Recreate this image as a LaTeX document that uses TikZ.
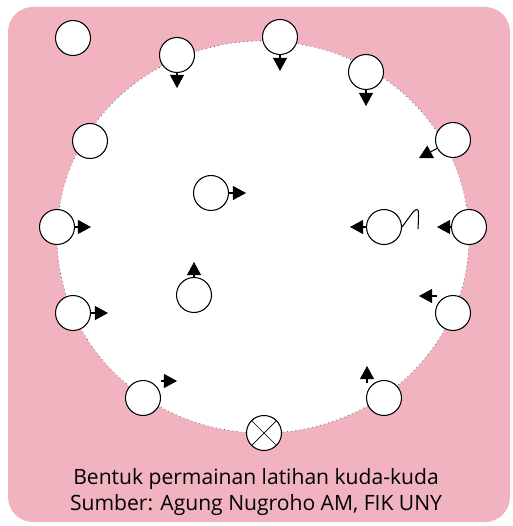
\documentclass[tikz,border=0pt]{standalone}
\usepackage{fontspec}
\setmainfont{Open Sans}
\usetikzlibrary{arrows.meta, positioning}
\definecolor{pinkbg}{RGB}{241,179,192}

\begin{document}
\begin{tikzpicture}[x=0.02cm, y=-0.02cm,
  player/.style={circle, draw, semithick, fill=white, minimum size=0.7cm, inner sep=0pt},
  move/.style={-{Triangle[length=7.5pt,width=8pt]}, semithick}]
  \useasboundingbox (0,0) rectangle (512,526);

  % field
  \fill[pinkbg, rounded corners=0.5cm] (8,7) rectangle (510,522);
  \draw[fill=white, draw=gray!60!black, dotted, thin] (263,237) ellipse [x radius=206, y radius=196];

  % players
  \foreach \name/\x/\y in {p1/73/38, p2/177/55, p3/280/37, p4/366/72, p5/453/140,
      p6/469/227, p7/384/227, p8/90/141, p9/57/227, p10/211/193, p11/194/295,
      p12/73/313, p13/143/398, p14/264/433, p15/384/398, p16/453/313}
    \node[player] (\name) at (\x,\y) {};
  \draw (p14.north west) -- (p14.south east);
  \draw (p14.north east) -- (p14.south west);

  % free ends
  \coordinate (a2) at (177,88);
  \coordinate (a3) at (280,71);
  \coordinate (a4) at (366,106);
  \coordinate (a5) at (419,158);
  \coordinate (a6) at (437,227);
  \coordinate (a7) at (350,227);
  \coordinate (a9) at (91,227);
  \coordinate (a10) at (246,193);
  \coordinate (a11) at (194,262);
  \coordinate (a12) at (108,313);
  \coordinate (b13) at (161,381);
  \coordinate (a13) at (177,381);
  \coordinate (b15) at (367,383);
  \coordinate (a15) at (367,366);
  \coordinate (b16) at (437,296);
  \coordinate (a16) at (419,296);

  % moves
  \foreach \p/\a in {p2/a2, p3/a3, p4/a4, p5/a5, p6/a6, p7/a7, p9/a9, p10/a10, p11/a11, p12/a12}
    \draw[move] (\p) -- (\a);
  \foreach \b/\a in {b13/a13, b15/a15, b16/a16}
    \draw[move] (\b) -- (\a);
  \draw[semithick] (p7.east) -- (413,212) .. controls (419,207) .. (418,229);

  % caption
  \node[font=\fontsize{12}{15}\selectfont, align=center] (cap) at (256,492)
    {Bentuk permainan latihan kuda-kuda\\Sumber: Agung Nugroho AM, FIK UNY};
\end{tikzpicture}
\end{document}
